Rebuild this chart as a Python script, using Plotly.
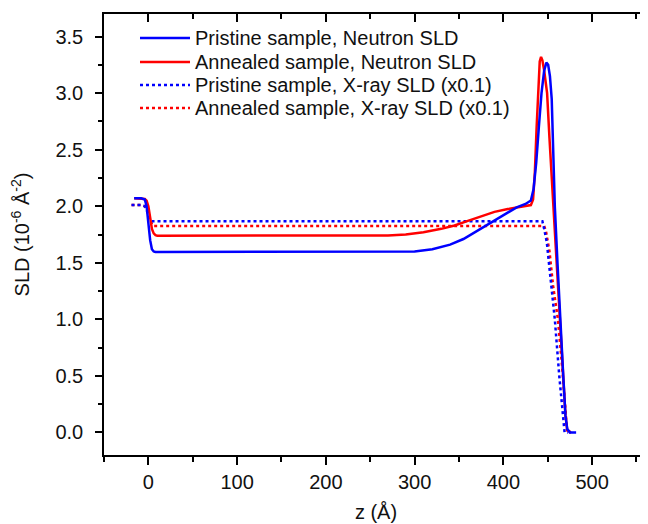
import plotly.graph_objects as go

# ---- data (z in Å, SLD in 1e-6 Å^-2) ----
z_pn = [-16, -8, -4, -2, 0, 2, 4, 6, 8, 12, 100, 200, 280, 300, 320, 340, 355, 370, 385, 395, 405, 415, 425, 431,
        434, 437, 440, 443, 446, 448.5, 450.5, 452.5, 454.5, 456, 458, 461, 464, 467.5, 470, 472, 475, 482]
v_pn = [2.07, 2.07, 2.06, 2.0, 1.85, 1.70, 1.62, 1.60, 1.595, 1.595, 1.595, 1.595, 1.596, 1.60, 1.62, 1.66, 1.71, 1.78, 1.85, 1.90, 1.95, 1.99, 2.02, 2.05,
        2.15, 2.38, 2.7, 3.0, 3.2, 3.27, 3.25, 3.15, 2.95, 2.55, 2.0, 1.5, 1.0, 0.5, 0.15, 0.03, 0.0, 0.0]

z_an = [-16, -8, -4, -2, 0, 2, 4, 6, 8, 10, 14, 100, 200, 270, 290, 310, 330, 345, 360, 375, 390, 405, 420, 431,
        433.5, 435.5, 437.5, 439.5, 441, 442.5, 444, 446, 449.3, 452, 456.3, 460, 463.3, 467, 470, 472, 476]
v_an = [2.07, 2.07, 2.065, 2.05, 2.0, 1.9, 1.80, 1.76, 1.745, 1.74, 1.74, 1.74, 1.74, 1.742, 1.75, 1.77, 1.80, 1.83, 1.87, 1.91, 1.95, 1.975, 1.995, 2.01,
        2.06, 2.3, 2.7, 3.1, 3.28, 3.32, 3.29, 3.2, 3.0, 2.6, 2.0, 1.5, 1.0, 0.5, 0.15, 0.02, 0.0]

z_px = [-19, -8, -4, -2, 0, 2, 4, 10, 100, 200, 300, 400, 444, 446, 449, 452.8, 458, 463, 467, 469, 473]
v_px = [2.01, 2.01, 2.0, 1.97, 1.92, 1.88, 1.867, 1.867, 1.867, 1.867, 1.867, 1.867, 1.867, 1.80, 1.68, 1.39, 1.0, 0.5, 0.12, 0.0, 0.0]

z_ax = [-19, -8, -4, -2, 0, 2, 4, 6, 10, 100, 200, 300, 400, 446, 448, 452, 456, 461.5, 466, 470, 472, 476]
v_ax = [2.01, 2.01, 2.0, 1.98, 1.93, 1.88, 1.84, 1.825, 1.825, 1.825, 1.825, 1.825, 1.825, 1.825, 1.78, 1.6, 1.3, 1.0, 0.6, 0.2, 0.0, 0.0]

names = ["Pristine sample, Neutron SLD", "Annealed sample, Neutron SLD",
         "Pristine sample, X-ray SLD (x0.1)", "Annealed sample, X-ray SLD (x0.1)"]

x_ticks = [0, 100, 200, 300, 400, 500]
y_ticks = [0.0, 0.5, 1.0, 1.5, 2.0, 2.5, 3.0, 3.5]
x_range = [-50, 563]
y_range = [-0.2, 3.7]

BLUE = "#0000FF"
RED = "#FF0000"
FONT = "Liberation Sans, Arial, sans-serif"
TXT = "#111111"

# the page body has an 8px margin: size the figure so it fits the 648x524 window exactly
OFF = 8
W, H = 648 - OFF, 524 - OFF
L, T = 104 - OFF, 14 - OFF
PLOT_R, PLOT_B = 648 - OFF, 455 - OFF
R, B = W - PLOT_R, H - PLOT_B
PW, PH = PLOT_R - L, PLOT_B - T

styles = [(BLUE, "solid"), (RED, "solid"), (BLUE, "dot"), (RED, "dot")]

fig = go.Figure()
fig.add_trace(go.Scatter(x=z_ax, y=v_ax, mode="lines", name=names[3], showlegend=False,
                         line=dict(color=RED, width=2.5, dash="dot")))
fig.add_trace(go.Scatter(x=z_px, y=v_px, mode="lines", name=names[2], showlegend=False,
                         line=dict(color=BLUE, width=2.5, dash="dot")))
fig.add_trace(go.Scatter(x=z_an, y=v_an, mode="lines", name=names[1], showlegend=False,
                         line=dict(color=RED, width=2.5)))
fig.add_trace(go.Scatter(x=z_pn, y=v_pn, mode="lines", name=names[0], showlegend=False,
                         line=dict(color=BLUE, width=2.5)))
# carrier for the mirrored top/right tick axes (no visible mark)
fig.add_trace(go.Scatter(x=x_range, y=y_range, mode="markers", marker=dict(opacity=0),
                         xaxis="x2", yaxis="y2", showlegend=False, hoverinfo="skip"))

# legend drawn as line samples + text (Origin-style long samples)
leg_rows_px = [38, 62, 85, 108]
for (col, dash), name, ypx in zip(styles, names, leg_rows_px):
    yp = (PLOT_B - (ypx - OFF)) / PH
    fig.add_shape(type="line", xref="paper", yref="paper",
                  x0=(140 - OFF - L) / PW, x1=(190 - OFF - L) / PW, y0=yp, y1=yp,
                  line=dict(color=col, width=2.5, dash=dash))
    fig.add_annotation(xref="paper", yref="paper", x=(193 - OFF - L) / PW, y=yp,
                       xanchor="left", yanchor="middle", showarrow=False,
                       text=name, font=dict(family=FONT, size=20, color=TXT))

fig.update_layout(
    width=W, height=H,
    margin=dict(l=L, r=R, t=T, b=B, autoexpand=False),
    paper_bgcolor="white", plot_bgcolor="white",
    font=dict(family=FONT, size=20, color=TXT),
    showlegend=False,
    xaxis=dict(range=x_range, tickvals=x_ticks, ticks="outside", ticklen=8, tickwidth=1.5,
               tickcolor="black", showline=True, linecolor="black", linewidth=1.5, mirror=True,
               showgrid=False, zeroline=False, automargin=False,
               minor=dict(dtick=50, tick0=0, ticks="outside", ticklen=5, tickwidth=1.5, tickcolor="black"),
               title=dict(text="z (Å)", standoff=13, font=dict(size=20)), tickfont=dict(size=20)),
    yaxis=dict(range=y_range, tickvals=y_ticks, ticktext=[f"{t:.1f}" for t in y_ticks],
               ticks="outside", ticklen=7, tickwidth=1.5, tickcolor="black", ticklabelstandoff=8,
               showline=True, linecolor="black", linewidth=1.5, showgrid=False, zeroline=False,
               automargin=False,
               minor=dict(dtick=0.25, tick0=0, ticks="outside", ticklen=4, tickwidth=1.5, tickcolor="black"),
               title=dict(text="SLD (10<sup>-6</sup> Å<sup>-2</sup>)", standoff=20, font=dict(size=20)),
               tickfont=dict(size=20)),
    xaxis2=dict(range=x_range, overlaying="x", side="top", anchor="y2", tickvals=x_ticks, ticks="inside",
                ticklen=8, tickwidth=1.5, tickcolor="black", showticklabels=False,
                showline=False, showgrid=False, zeroline=False, automargin=False,
                minor=dict(dtick=50, tick0=0, ticks="inside", ticklen=5, tickwidth=1.5, tickcolor="black")),
    yaxis2=dict(range=y_range, overlaying="y", side="right", anchor="x2", tickvals=y_ticks, ticks="inside",
                ticklen=7, tickwidth=1.5, tickcolor="black", showticklabels=False,
                showline=False, showgrid=False, zeroline=False, automargin=False,
                minor=dict(dtick=0.25, tick0=0, ticks="inside", ticklen=4, tickwidth=1.5, tickcolor="black")),
)

fig.write_html("out.html")
